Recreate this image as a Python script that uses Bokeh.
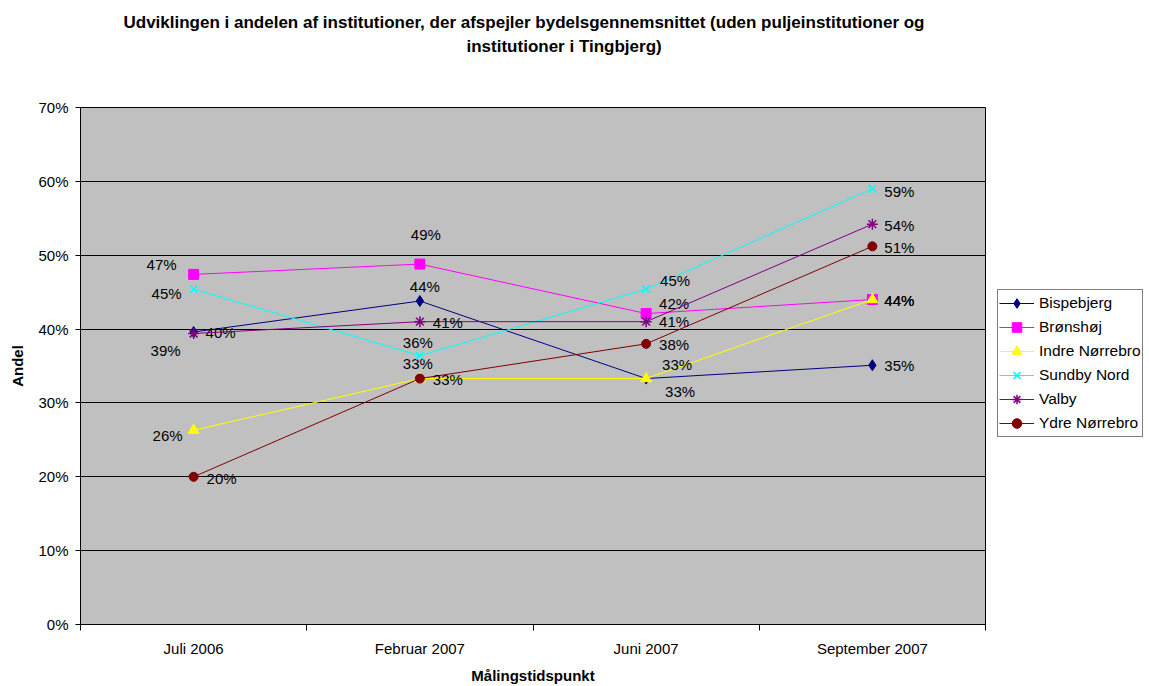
from bokeh.plotting import figure
from bokeh.models import (Range1d, FixedTicker, NumeralTickFormatter, ColumnDataSource,
                          Legend, LegendItem, Title)
from bokeh.core.properties import value
from bokeh.embed import file_html
from bokeh.resources import INLINE

# ---- data ----
months = ["Juli 2006", "Februar 2007", "Juni 2007", "September 2007"]
series_names = ["Bispebjerg", "Brønshøj", "Indre Nørrebro", "Sundby Nord", "Valby", "Ydre Nørrebro"]
bispebjerg = [0.396, 0.438, 0.333, 0.351]
bronshoj = [0.474, 0.488, 0.421, 0.440]
indre_norrebro = [0.263, 0.333, 0.333, 0.440]
sundby_nord = [0.454, 0.364, 0.454, 0.590]
valby = [0.394, 0.410, 0.410, 0.542]
ydre_norrebro = [0.200, 0.333, 0.380, 0.512]
y_ticks = [0.0, 0.1, 0.2, 0.3, 0.4, 0.5, 0.6, 0.7]

# ---- styles (not data) ----
colors = ["#000080", "#FF00FF", "#FFFF00", "#00FFFF", "#800080", "#800000"]
markers = ["diamond", "square", "triangle", "x", "asterisk", "circle"]
msizes = [11, 10, 11, 11, 11, 9]
# data-label offsets (screen px) per series, per month
label_dx = [[27, 5, 34, 27], [-32, 6, 28, 27], [-26, -2, 31, 27],
            [-27, -2, 29, 27], [-28, 28, 28, 27], [28, 28, 28, 27]]
label_dy = [[0, -15, 13, 0], [-10, -30, -10, 1], [5, -15, -14, 1],
            [4, -13, -9, 3], [17, 1, 0, 1], [2, 1, 1, 1]]

all_series = [bispebjerg, bronshoj, indre_norrebro, sundby_nord, valby, ydre_norrebro]
xpos = [i + 0.5 for i in range(len(months))]

FONT = "Liberation Sans"

p = figure(frame_width=905, frame_height=517, output_backend="svg", toolbar_location=None,
           x_range=Range1d(0, len(months)), y_range=Range1d(0, 0.7),
           min_border_left=80, min_border_right=164, min_border_top=107, min_border_bottom=62,
           background_fill_color="#C0C0C0", border_fill_color="white")
p.outline_line_color = "#000000"
p.outline_line_width = 1

# x axis
p.xaxis.ticker = FixedTicker(ticks=xpos, minor_ticks=list(range(len(months) + 1)))
p.xaxis.major_label_overrides = {x: m for x, m in zip(xpos, months)}
p.xaxis.major_tick_out = 0
p.xaxis.major_tick_in = 0
p.xaxis.minor_tick_out = 6
p.xaxis.minor_tick_in = 0
p.xaxis.minor_tick_line_color = "black"
p.xaxis.axis_line_color = "black"
p.xaxis.major_label_standoff = 9
p.xaxis.major_label_text_font = FONT
p.xaxis.major_label_text_font_size = "15px"
p.xaxis.major_label_text_color = "black"
p.xaxis.axis_label = "Målingstidspunkt"
p.xaxis.axis_label_text_font = FONT
p.xaxis.axis_label_text_font_size = "15px"
p.xaxis.axis_label_text_font_style = "bold"
p.xaxis.axis_label_standoff = 7
p.xaxis.axis_label_text_color = "black"

# y axis
p.yaxis.ticker = FixedTicker(ticks=y_ticks, minor_ticks=[])
p.yaxis.formatter = NumeralTickFormatter(format="0%")
p.yaxis.major_tick_out = 5
p.yaxis.major_tick_in = 0
p.yaxis.major_tick_line_color = "black"
p.yaxis.axis_line_color = "black"
p.yaxis.major_label_standoff = 7
p.yaxis.major_label_text_font = FONT
p.yaxis.major_label_text_font_size = "15px"
p.yaxis.major_label_text_color = "black"
p.yaxis.axis_label = "Andel"
p.yaxis.axis_label_text_font = FONT
p.yaxis.axis_label_text_font_size = "15px"
p.yaxis.axis_label_text_font_style = "bold"
p.yaxis.axis_label_standoff = 9
p.yaxis.axis_label_text_color = "black"

p.xgrid.visible = False
p.ygrid.grid_line_color = "black"
p.ygrid.grid_line_width = 1

items = []
for name, vals, c, m, ms, dx, dy in zip(series_names, all_series, colors, markers,
                                        msizes, label_dx, label_dy):
    src = ColumnDataSource(dict(x=xpos, y=vals,
                                lab=["{:.0f}%".format(v * 100) for v in vals],
                                dx=dx, dy=dy))
    r1 = p.line("x", "y", source=src, line_color=c, line_width=1)
    r2 = p.scatter("x", "y", source=src, marker=m, size=ms, fill_color=c, line_color=c,
                   line_width=1.5 if m in ("x", "asterisk") else 1)
    p.text("x", "y", text="lab", source=src, x_offset="dx", y_offset="dy",
           text_align="center", text_baseline="middle", text_font=value(FONT),
           text_font_size="15px", text_color="black")
    items.append(LegendItem(label=name, renderers=[r1, r2]))

legend = Legend(items=items, location=(12, 187), border_line_color="black",
                border_line_width=1, background_fill_color="white", background_fill_alpha=1,
                label_text_font=FONT, label_text_font_size="15.5px", label_text_color="black",
                glyph_height=24, glyph_width=35, label_height=24, spacing=0, padding=1,
                margin=0, label_standoff=5)
p.add_layout(legend, "right")

# title (two lines)
title1 = "Udviklingen i andelen af institutioner, der afspejler bydelsgennemsnittet (uden puljeinstitutioner og"
title2 = "institutioner i Tingbjerg)"
p.add_layout(Title(text=" ", align="left", vertical_align="top", standoff=35,
                   text_font=FONT, text_font_size="10px"), "above")
p.add_layout(Title(text=title2, align="left", offset=386, vertical_align="top", standoff=4,
                   text_font=FONT, text_font_size="17px", text_font_style="bold",
                   text_color="black"), "above")
p.add_layout(Title(text=title1, align="left", offset=43, vertical_align="top", standoff=2,
                   text_font=FONT, text_font_size="17px", text_font_style="bold",
                   text_color="black"), "above")

open("out.html", "w").write(file_html(p, INLINE))
